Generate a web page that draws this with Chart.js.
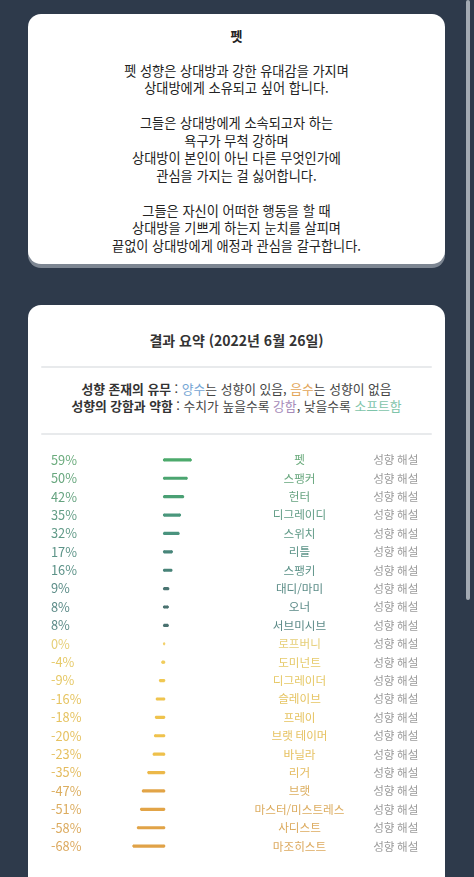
<!DOCTYPE html>
<html lang="ko">
<head>
<meta charset="utf-8">
<script src="https://cdn.jsdelivr.net/npm/chart.js@4.4.0/dist/chart.umd.min.js"></script>
<style>
  html, body { margin: 0; padding: 0; }
  body {
    width: 474px; height: 877px; overflow: hidden; position: relative;
    background: #2e3a4b;
    font-family: 'Noto Sans CJK KR', 'Noto Sans', sans-serif;
    color: #222;
  }
  .scroll { position: absolute; left: 466px; top: 0; width: 4px; height: 600px; background: #a3aab3; border-radius: 2px; }
  .card { position: absolute; left: 28px; width: 417px; background: #fff; border-radius: 13px; box-shadow: 0 4px 0 #7d8692; }
  #card1 { top: 14px; height: 250px; }
  #card2 { top: 305px; height: 640px; }
  .intro { position: absolute; left: 0; right: 0; top: 13px; text-align: center; font-size: 13.2px; line-height: 17.47px; color: #222; }
  .intro b { font-size: 13px; }
  .title { position: absolute; left: 0; right: 0; top: 25px; line-height: 20px; text-align: center; font-size: 14px; font-weight: bold; color: #333; }
  .rule { position: absolute; left: 13px; width: 391px; height: 2px; background: #e8eaec; border-radius: 1px; }
  .legend { position: absolute; left: 0; right: 0; top: 74.5px; text-align: center; font-size: 12.8px; line-height: 17.7px; color: #444; }
  .legend b { color: #333; }
  .pos { color: #74a5d4; }
  .neg { color: #e2a658; }
  .strong { color: #a58ab9; }
  .soft { color: #7ec4aa; }
  #wrap { position: absolute; left: 51px; top: 443px; width: 394px; height: 420px; }
</style>
</head>
<body>
<div class="scroll"></div>

<div class="card" id="card1">
  <div class="intro">
    <b>펫</b><br><br>
    펫 성향은 상대방과 강한 유대감을 가지며<br>
    상대방에게 소유되고 싶어 합니다.<br><br>
    그들은 상대방에게 소속되고자 하는<br>
    욕구가 무척 강하며<br>
    상대방이 본인이 아닌 다른 무엇인가에<br>
    관심을 가지는 걸 싫어합니다.<br><br>
    그들은 자신이 어떠한 행동을 할 때<br>
    상대방을 기쁘게 하는지 눈치를 살피며<br>
    끝없이 상대방에게 애정과 관심을 갈구합니다.
  </div>
</div>

<div class="card" id="card2">
  <div class="title">결과 요약 (2022년 6월 26일)</div>
  <div class="rule" style="top:61px"></div>
  <div class="legend">
    <b>성향 존재의 유무</b> : <span class="pos">양수</span>는 성향이 있음, <span class="neg">음수</span>는 성향이 없음<br>
    <b>성향의 강함과 약함</b> : 수치가 높을수록 <span class="strong">강함</span>, 낮을수록 <span class="soft">소프트함</span>
  </div>
  <div class="rule" style="top:128px"></div>
</div>

<div id="wrap"><canvas id="chart" width="394" height="420"></canvas></div>

<script>
// 성향 결과 (%)
const values = [59, 50, 42, 35, 32, 17, 16, 9, 8, 8, 0, -4, -9, -16, -18, -20, -23, -35, -47, -51, -58, -68];
const names = ['펫', '스팽커', '헌터', '디그레이디', '스위치', '리틀', '스팽키', '대디/마미', '오너', '서브미시브',
  '로프버니', '도미넌트', '디그레이더', '슬레이브', '프레이', '브랫 테이머', '바닐라', '리거', '브랫',
  '마스터/미스트레스', '사디스트', '마조히스트'];
const pctLabels = values.map(v => v + '%');
const linkText = '성향 해설';

// colours
const barColors = ['#4caa6c', '#4ba570', '#4aa074', '#4a977c', '#4a937e', '#48867a', '#488378', '#4a7572', '#4a7270', '#4a7270',
  '#f2d06a', '#f0cc5c', '#f0c852', '#efc44e', '#efc34d', '#efc24c', '#eec04b', '#ecb849',
  '#e2a447', '#e2a447', '#e1a347', '#e0a247'];
const textColors = ['#6aab7c', '#68a77e', '#66a380', '#629d86', '#609a87', '#5d9488', '#5c9288', '#5b8c87', '#5b8a87', '#5b8a87',
  '#e6cf78', '#e6ca6a', '#e6c865', '#e6c462', '#e6c361', '#e6c261', '#e6c060', '#e4bb5e',
  '#dcae5f', '#dcac5f', '#dcab5f', '#dca95f'];

const FONT = "'Noto Sans CJK KR', sans-serif";

// round ends on the bars + name / link columns
const rowText = {
  id: 'rowText',
  afterDatasetsDraw(chart) {
    const ctx = chart.ctx;
    const meta = chart.getDatasetMeta(0);
    ctx.save();
    meta.data.forEach((bar, i) => {
      ctx.fillStyle = barColors[i];
      ctx.beginPath();
      ctx.arc(bar.base, bar.y, 1.25, 0, Math.PI * 2);
      ctx.arc(bar.x, bar.y, 1.25, 0, Math.PI * 2);
      ctx.fill();
    });
    const y = chart.scales.y;
    ctx.font = '11.6px ' + FONT;
    ctx.textAlign = 'center';
    ctx.textBaseline = 'middle';
    names.forEach((n, i) => {
      const py = y.getPixelForValue(i);
      ctx.fillStyle = textColors[i];
      ctx.fillText(n, 248.5, py);
      ctx.fillStyle = '#9c9c9c';
      ctx.fillText(linkText, 344.8, py);
    });
    ctx.restore();
  }
};

new Chart(document.getElementById('chart'), {
  type: 'bar',
  data: {
    labels: pctLabels,
    datasets: [{
      data: values,
      backgroundColor: barColors,
      barThickness: 2.5,
      borderWidth: 0
    }]
  },
  options: {
    indexAxis: 'y',
    responsive: false,
    animation: false,
    layout: { padding: 0 },
    plugins: { legend: { display: false }, tooltip: { enabled: false } },
    scales: {
      x: { display: false, min: -118, max: 624 },
      y: {
        position: 'left',
        grid: { display: false },
        border: { display: false },
        ticks: {
          crossAlign: 'far',
          padding: 0,
          color: c => textColors[c.index],
          font: { family: FONT, size: 12.8 }
        },
        afterFit: s => { s.width = 60; }
      }
    }
  },
  plugins: [rowText]
});
</script>
</body>
</html>
